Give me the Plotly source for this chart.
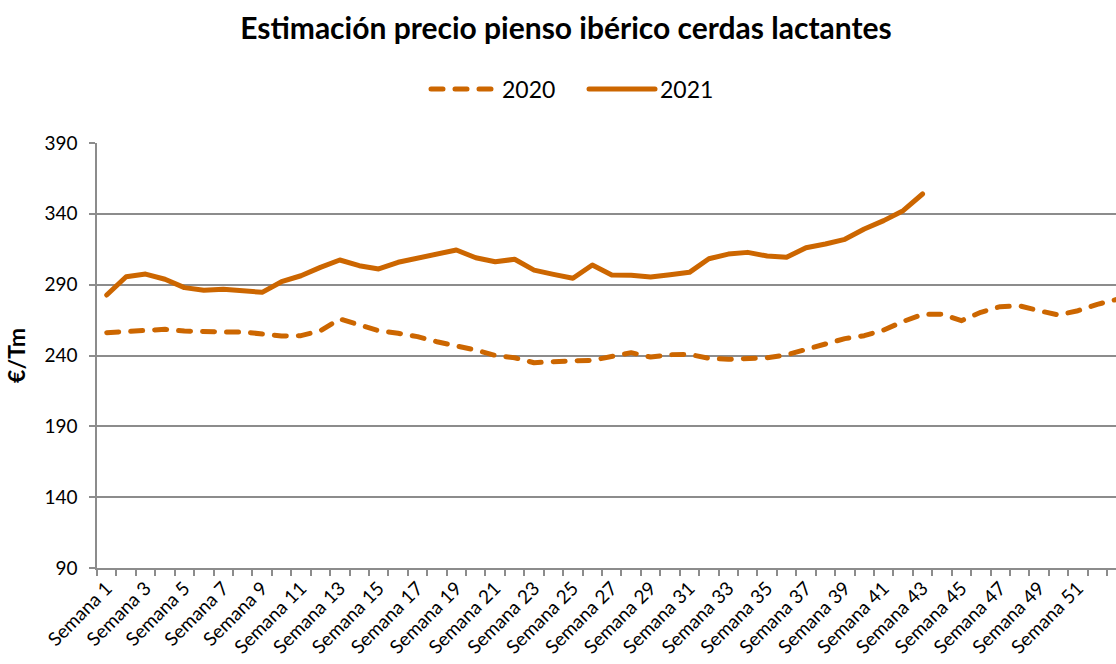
import plotly.graph_objects as go

weeks = list(range(1, 54))
week_labels = [f"Semana {w}" for w in weeks]

precio_2020 = [256.1, 256.8, 257.5, 258.5, 257.3, 256.6, 256.6, 256.6, 255.0, 253.8,
               254.0, 257.5, 265.8, 261.5, 257.5, 255.7, 253.3, 249.7, 247.1, 243.8,
               240.1, 238.4, 234.9, 235.9, 236.3, 236.6, 239.2, 242.0, 238.9, 240.6,
               240.8, 238.0, 237.3, 237.5, 238.4, 240.4, 243.9, 248.1, 251.9, 254.0,
               258.0, 264.0, 269.0, 269.1, 264.6, 270.5, 274.5, 275.0, 271.6, 268.6,
               271.6, 276.1, 279.6]

precio_2021 = [282.7, 295.6, 297.5, 293.8, 287.9, 286.0, 286.7, 285.3, 284.6, 292.1,
               296.3, 302.2, 307.4, 303.4, 301.1, 305.8, 308.6, 310.9, 314.5, 309.0,
               306.2, 307.9, 300.3, 297.3, 294.5, 303.9, 296.8, 296.6, 295.4, 297.0,
               298.7, 308.3, 311.6, 312.8, 310.2, 309.3, 316.1, 318.7, 322.0, 329.3,
               335.2, 342.2, 354.0]

y_ticks = [90, 140, 190, 240, 290, 340, 390]

ORANGE = "#CC6600"
GRID = "#8C8C8C"
FONT = "Lato"

fig = go.Figure()
fig.add_trace(go.Scatter(
    x=weeks, y=precio_2020, mode="lines", name="2020",
    line=dict(color=ORANGE, width=5, dash="12px,12px"),
))
fig.add_trace(go.Scatter(
    x=weeks[:len(precio_2021)], y=precio_2021, mode="lines", name="2021",
    line=dict(color=ORANGE, width=5),
))

fig.update_layout(
    width=1116, height=664,
    margin=dict(l=97, r=0, t=143, b=96, autoexpand=False),
    paper_bgcolor="white", plot_bgcolor="white",
    font=dict(family=FONT, color="black", size=16),
    title=dict(text="<b>Estimación precio pienso ibérico cerdas lactantes</b>",
               x=566 / 1116, xref="container", xanchor="center",
               y=1 - 28 / 664, yref="container", yanchor="middle",
               font=dict(family=FONT, size=30, color="black")),
    legend=dict(orientation="h", x=584 / 1116, xref="container", xanchor="center",
                y=1 - 89 / 664, yref="container", yanchor="middle",
                font=dict(family=FONT, size=23, color="black"),
                itemwidth=66, entrywidth=77, entrywidthmode="pixels",
                bgcolor="rgba(0,0,0,0)"),
    showlegend=True,
)

fig.update_xaxes(
    range=[0.5, 52.96],
    automargin=False,
    tickmode="array",
    tickvals=weeks[::2],
    ticktext=week_labels[::2],
    tickangle=-45,
    ticks="",
    tickfont=dict(family=FONT, size=19, color="black"),
    showgrid=False,
    zeroline=False,
    showline=True, linecolor=GRID, linewidth=1.5,
    minor=dict(tickmode="array", tickvals=[w - 0.5 for w in weeks],
               ticks="outside", ticklen=6, tickwidth=1.5, tickcolor=GRID,
               showgrid=False),
)

fig.update_yaxes(
    range=[90, 390],
    automargin=False,
    tickmode="array",
    tickvals=y_ticks,
    ticks="outside", ticklen=6, tickwidth=1.5, tickcolor=GRID,
    ticklabelstandoff=8,
    tickfont=dict(family=FONT, size=19, color="black"),
    showgrid=True, gridcolor=GRID, gridwidth=1.5,
    zeroline=False,
    showline=True, linecolor=GRID, linewidth=1.5,
    title=dict(text="<b>€/Tm</b>", font=dict(family=FONT, size=23, color="black"),
               standoff=12),
)

post = """
document.body.style.margin='0';
document.body.style.padding='0';
document.body.style.overflow='hidden';
document.querySelectorAll('path.js-line').forEach(function(p){
  p.style.strokeLinecap='round'; p.style.strokeLinejoin='round';
});
"""
fig.write_html("out.html", post_script=post, config={"displayModeBar": False})
